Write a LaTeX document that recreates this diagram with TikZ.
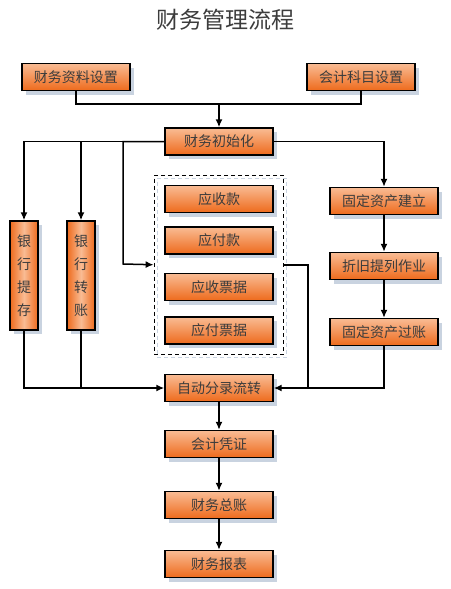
\documentclass[tikz,border=0pt]{standalone}
\usepackage{fontspec}
\setmainfont{Noto Sans CJK SC}
\usetikzlibrary{arrows.meta,%
                shadows,%
                fit}
\definecolor{boxtop}{HTML}{F9BC94}
\definecolor{boxbot}{HTML}{EE6A1C}
\definecolor{boxtxt}{HTML}{3C3C3C}
\definecolor{shade}{HTML}{C9D3E0}

\begin{document}
\begin{tikzpicture}[x=1pt,y=-1pt]
  \useasboundingbox (0,0) rectangle (450,589);
  \tikzstyle{Box}=[draw=black,line width=1.4pt,top color=boxtop,bottom color=boxbot,
    minimum width=108pt,minimum height=27pt,inner sep=0pt,text=boxtxt,
    font=\fontsize{14}{16}\selectfont,
    drop shadow={shadow xshift=4pt,shadow yshift=-4pt,fill=shade,opacity=1}]
  \tikzstyle{VBox}=[Box,minimum width=28pt,minimum height=109pt,align=center,
    left color=boxbot,right color=boxbot,middle color=boxtop,
    font=\fontsize{14}{23}\selectfont]
  \tikzstyle{Line}=[line width=1.5pt]
  \tikzstyle{Link}=[Line,-{Latex[length=8pt,width=7pt]}]
  \node[text=boxtxt,font=\fontsize{23}{26}\selectfont] (title) at (225,20) {财务管理流程};
  \node[Box] (zlsz) at (76,77) {财务资料设置};
  \node[Box] (kmsz) at (361,77) {会计科目设置};
  \node[Box] (csh) at (219,141.5) {财务初始化};
  \node[VBox] (yhtc) at (24,275.5) {银\\行\\提\\存};
  \node[VBox] (yhzz) at (81,275.5) {银\\行\\转\\账};
  \node[Box] (ysk) at (219,199) {应收款};
  \node[Box] (yfk) at (219,240.5) {应付款};
  \node[Box] (yspj) at (219,287) {应收票据};
  \node[Box] (yfpj) at (219,330.5) {应付票据};
  \node[draw=black,line width=1.4pt,dash pattern=on 4pt off 3pt,inner xsep=10pt,inner ysep=9.5pt,
    drop shadow={shadow xshift=3pt,shadow yshift=-3pt,draw=shade,fill=none,opacity=1,
    line width=1.4pt,dash pattern=on 4pt off 3pt},
    fit=(ysk)(yfpj)] (zwl) {};
  \node[Box] (gdjl) at (384,201) {固定资产建立};
  \node[Box] (zjtl) at (384,266) {折旧提列作业};
  \node[Box] (gdgz) at (384,332) {固定资产过账};
  \node[Box] (zdfl) at (219,388) {自动分录流转};
  \node[Box] (kjpz) at (219,444) {会计凭证};
  \node[Box] (zwzz) at (219,505) {财务总账};
  \node[Box] (cwbb) at (219,564) {财务报表};
  \coordinate (j1) at (219,104);
  \coordinate (c1) at (123,264);
  \coordinate (c2) at (308,388);
  \draw[Line] (zlsz.south) |- (j1) -| (kmsz.south);
  \draw[Link] (j1) -- (csh.north);
  \draw[Link] (csh.west) -| (yhtc.north);
  \draw[Link] (csh.west) -| (yhzz.north);
  \draw[Link] (csh.west) -| (c1) -- (zwl.west);
  \draw[Link] (csh.east) -| (gdjl.north);
  \draw[Link] (gdjl) -- (zjtl);
  \draw[Link] (zjtl) -- (gdgz);
  \draw[Link] (gdgz.south) |- (zdfl.east);
  \draw[Line] (zwl.east) -| (c2);
  \draw[Link] (yhtc.south) |- (zdfl.west);
  \draw[Line] (yhzz.south) -- (yhzz.south |- zdfl.west);
  \draw[Link] (zdfl) -- (kjpz);
  \draw[Link] (kjpz) -- (zwzz);
  \draw[Link] (zwzz) -- (cwbb);
\end{tikzpicture}
\end{document}
